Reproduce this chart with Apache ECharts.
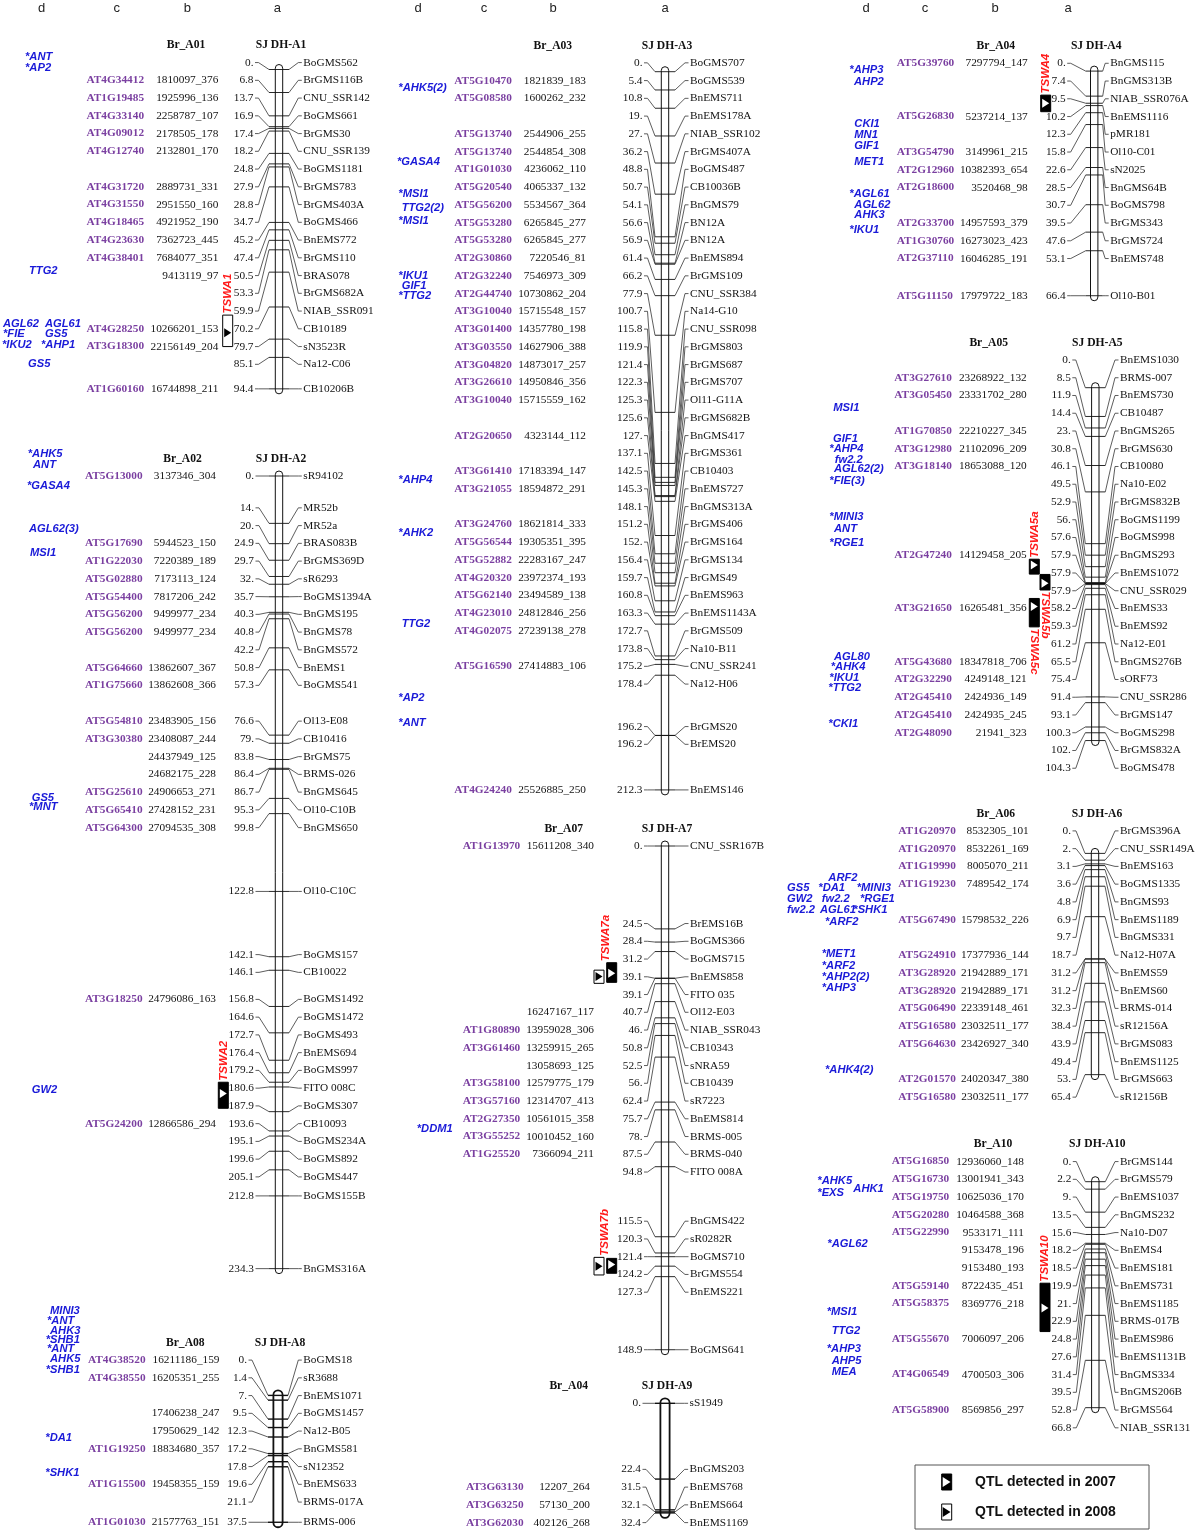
<!DOCTYPE html>
<html><head><meta charset="utf-8">
<script src="https://cdn.jsdelivr.net/npm/echarts@6/dist/echarts.min.js"></script>
<style>html,body{margin:0;padding:0;background:#fff}#chart{width:1200px;height:1530px}</style>
</head><body><div id="chart"></div>
<script>
// ================= DATA =================
const groupIds = ['A01','A02','A08','A03','A07','A09','A04','A05','A06','A10'];
const brNames  = ['Br_A01','Br_A02','Br_A08','Br_A03','Br_A07','Br_A04','Br_A04','Br_A05','Br_A06','Br_A10'];
const sjNames  = ['SJ DH-A1','SJ DH-A2','SJ DH-A8','SJ DH-A3','SJ DH-A7','SJ DH-A9','SJ DH-A4','SJ DH-A5','SJ DH-A6','SJ DH-A10'];

// ---- A01 ----
const A01_marker = ['BoGMS562','BrGMS116B','CNU_SSR142','BoGMS661','BrGMS30','CNU_SSR139','BoGMS1181','BrGMS783','BrGMS403A','BoGMS466','BnEMS772','BrGMS110','BRAS078','BrGMS682A','NIAB_SSR091','CB10189','sN3523R','Na12-C06','CB10206B'];
const A01_cM = [0,6.8,13.7,16.9,17.4,18.2,24.8,27.9,28.8,34.7,45.2,47.4,50.5,53.3,59.9,70.2,79.7,85.1,94.4];
const A01_gene = ['','AT4G34412','AT1G19485','AT4G33140','AT4G09012','AT4G12740','','AT4G31720','AT4G31550','AT4G18465','AT4G23630','AT4G38401','','','','AT4G28250','AT3G18300','','AT1G60160'];
const A01_phys = ['','1810097_376','1925996_136','2258787_107','2178505_178','2132801_170','','2889731_331','2951550_160','4921952_190','7362723_445','7684077_351','9413119_97','','','10266201_153','22156149_204','','16744898_211'];
const A01_cand = ['*ANT','*AP2','TTG2','AGL62','AGL61','*FIE','GS5','*IKU2','*AHP1','GS5'];
const A01_candCM = [-3.6,-0.5,59.4,75.2,75.2,78.3,78.3,81.4,81.4,87.1];

// ---- A02 ----
const A02_marker = ['sR94102','MR52b','MR52a','BRAS083B','BrGMS369D','sR6293','BoGMS1394A','BnGMS195','BnGMS78','BnGMS572','BnEMS1','BoGMS541','Ol13-E08','CB10416','BrGMS75','BRMS-026','BnGMS645','Ol10-C10B','BnGMS650','Ol10-C10C','BoGMS157','CB10022','BoGMS1492','BoGMS1472','BoGMS493','BnEMS694','BoGMS997','FITO 008C','BoGMS307','CB10093','BoGMS234A','BoGMS892','BoGMS447','BoGMS155B','BnGMS316A'];
const A02_cM = [0,14,20,24.9,29.7,32,35.7,40.3,40.8,42.2,50.8,57.3,76.6,79,83.8,86.4,86.7,95.3,99.8,122.8,142.1,146.1,156.8,164.6,172.7,176.4,179.2,180.6,187.9,193.6,195.1,199.6,205.1,212.8,234.3];
const A02_gene = ['AT5G13000','','','AT5G17690','AT1G22030','AT5G02880','AT5G54400','AT5G56200','AT5G56200','','AT5G64660','AT1G75660','AT5G54810','AT3G30380','','','AT5G25610','AT5G65410','AT5G64300','','','','AT3G18250','','','','','','','AT5G24200','','','','',''];
const A02_phys = ['3137346_304','','','5944523_150','7220389_189','7173113_124','7817206_242','9499977_234','9499977_234','','13862607_367','13862608_366','23483905_156','23408087_244','24437949_125','24682175_228','24906653_271','27428152_231','27094535_308','','','','24796086_163','','','','','','','12866586_294','','','','',''];
const A02_cand = ['*AHK5','ANT','*GASA4','AGL62(3)','MSI1','GS5','*MNT','GW2'];
const A02_candCM = [-6.4,-3.3,3.0,15.5,22.7,95.1,97.7,181.5];

// ---- A08 ----
const A08_marker = ['BoGMS18','sR3688','BnEMS1071','BoGMS1457','Na12-B05','BnGMS581','sN12352','BnEMS633','BRMS-017A','BRMS-006'];
const A08_cM = [0,1.4,7,9.5,12.3,17.2,17.8,19.6,21.1,37.5];
const A08_gene = ['AT4G38520','AT4G38550','','','','AT1G19250','','AT1G15500','','AT1G01030'];
const A08_phys = ['16211186_159','16205351_255','','17406238_247','17950629_142','18834680_357','','19458355_159','','21577763_151'];
const A08_cand = ['MINI3','*ANT','AHK3','*SHB1','*ANT','AHK5','*SHB1','*DA1','*SHK1'];
const A08_candCM = [-25.0,-22.1,-19.1,-16.4,-13.6,-10.7,-7.5,12.7,23.0];

// ---- A03 ----
const A03_marker = ['BoGMS707','BoGMS539','BnEMS711','BnEMS178A','NIAB_SSR102','BrGMS407A','BoGMS487','CB10036B','BnGMS79','BN12A','BN12A','BnEMS894','BrGMS109','CNU_SSR384','Na14-G10','CNU_SSR098','BrGMS803','BrGMS687','BrGMS707','Ol11-G11A','BrGMS682B','BnGMS417','BrGMS361','CB10403','BnEMS727','BnGMS313A','BrGMS406','BrGMS164','BrGMS134','BrGMS49','BnEMS963','BnEMS1143A','BrGMS509','Na10-B11','CNU_SSR241','Na12-H06','BrGMS20','BrEMS20','BnEMS146'];
const A03_cM = [0,5.4,10.8,19,27,36.2,48.8,50.7,54.1,56.6,56.9,61.4,66.2,77.9,100.7,115.8,119.9,121.4,122.3,125.3,125.6,127,137.1,142.5,145.3,148.1,151.2,152,156.4,159.7,160.8,163.3,172.7,173.8,175.2,178.4,196.2,196.2,212.3];
const A03_gene = ['','AT5G10470','AT5G08580','','AT5G13740','AT5G13740','AT1G01030','AT5G20540','AT5G56200','AT5G53280','AT5G53280','AT2G30860','AT2G32240','AT2G44740','AT3G10040','AT3G01400','AT3G03550','AT3G04820','AT3G26610','AT3G10040','','AT2G20650','','AT3G61410','AT3G21055','','AT3G24760','AT5G56544','AT5G52882','AT4G20320','AT5G62140','AT4G23010','AT4G02075','','AT5G16590','','','','AT4G24240'];
const A03_phys = ['','1821839_183','1600262_232','','2544906_255','2544854_308','4236062_110','4065337_132','5534567_364','6265845_277','6265845_277','7220546_81','7546973_309','10730862_204','15715548_157','14357780_198','14627906_388','14873017_257','14950846_356','15715559_162','','4323144_112','','17183394_147','18594872_291','','18621814_333','19305351_395','22283167_247','23972374_193','23494589_138','24812846_256','27239138_278','','27414883_106','','','','25526885_250'];
const A03_cand = ['*AHK5(2)','*GASA4','*MSI1','TTG2(2)','*MSI1','*IKU1','GIF1','*TTG2','*AHP4','*AHK2','TTG2','*AP2','*ANT'];
const A03_candCM = [4.9,26.6,36.2,40.2,44.0,60.3,63.3,66.2,120.7,136.3,163.3,185.2,192.4];

// ---- A07 ----
const A07_marker = ['CNU_SSR167B','BrEMS16B','BoGMS366','BoGMS715','BnEMS858','FITO 035','Ol12-E03','NIAB_SSR043','CB10343','sNRA59','CB10439','sR7223','BnEMS814','BRMS-005','BRMS-040','FITO 008A','BnGMS422','sR0282R','BoGMS710','BrGMS554','BnEMS221','BoGMS641'];
const A07_cM = [0,24.5,28.4,31.2,39.1,39.1,40.7,46,50.8,52.5,56,62.4,75.7,78,87.5,94.8,115.5,120.3,121.4,124.2,127.3,148.9];
const A07_gene = ['AT1G13970','','','','','','','AT1G80890','AT3G61460','','AT3G58100','AT3G57160','AT2G27350','AT3G55252','AT1G25520','','','','','','',''];
const A07_phys = ['15611208_340','','','','','','16247167_117','13959028_306','13259915_265','13058693_125','12579775_179','12314707_413','10561015_358','10010452_160','7366094_211','','','','','','',''];
const A07_cand = ['*DDM1'];
const A07_candCM = [83.5];

// ---- A09 ----
const A09_marker = ['sS1949','BnGMS203','BnEMS768','BnEMS664','BnEMS1169'];
const A09_cM = [0,22.4,31.5,32.1,32.4];
const A09_gene = ['','','AT3G63130','AT3G63250','AT3G62030'];
const A09_phys = ['','','12207_264','57130_200','402126_268'];
const A09_cand = [];
const A09_candCM = [];

// ---- A04 ----
const A04_marker = ['BnGMS115','BnGMS313B','NIAB_SSR076A','BnEMS1116','pMR181','Ol10-C01','sN2025','BnGMS64B','BoGMS798','BrGMS343','BrGMS724','BnEMS748','Ol10-B01'];
const A04_cM = [0,7.4,9.5,10.2,12.3,15.8,22.6,28.5,30.7,39.5,47.6,53.1,66.4];
const A04_gene = ['AT5G39760','','','AT5G26830','','AT3G54790','AT2G12960','AT2G18600','','AT2G33700','AT1G30760','AT2G37110','AT5G11150'];
const A04_phys = ['7297794_147','','','5237214_137','','3149961_215','10382393_654','3520468_98','','14957593_379','16273023_423','16046285_191','17979722_183'];
const A04_cand = ['*AHP3','AHP2','CKI1','MN1','GIF1','MET1','*AGL61','AGL62','AHK3','*IKU1'];
const A04_candCM = [-0.3,3.3,15.6,18.9,22.1,26.8,36.3,39.6,42.5,47.0];

// ---- A05 ----
const A05_marker = ['BnEMS1030','BRMS-007','BnEMS730','CB10487','BnGMS265','BrGMS630','CB10080','Na10-E02','BrGMS832B','BoGMS1199','BoGMS998','BnGMS293','BnEMS1072','CNU_SSR029','BnEMS33','BnEMS92','Na12-E01','BnGMS276B','sORF73','CNU_SSR286','BrGMS147','BoGMS298','BrGMS832A','BoGMS478'];
const A05_cM = [0,8.5,11.9,14.4,23,30.8,46.1,49.5,52.9,56,57.6,57.9,57.9,57.9,58.2,59.3,61.2,65.5,75.4,91.4,93.1,100.3,102,104.3];
const A05_gene = ['','AT3G27610','AT3G05450','','AT1G70850','AT3G12980','AT3G18140','','','','','AT2G47240','','','AT3G21650','','','AT5G43680','AT2G32290','AT2G45410','AT2G45410','AT2G48090','',''];
const A05_phys = ['','23268922_132','23331702_280','','22210227_345','21102096_209','18653088_120','','','','','14129458_205','','','16265481_356','','','18347818_706','4249148_121','2424936_149','2424935_245','21941_323','',''];
const A05_cand = ['MSI1','GIF1','*AHP4','fw2.2','AGL62(2)','*FIE(3)','*MINI3','ANT','*RGE1','AGL80','*AHK4','*IKU1','*TTG2','*CKI1'];
const A05_candCM = [6.1,15.1,18.2,21.2,24.1,27.6,38.1,41.8,46.0,79.5,82.5,85.7,88.7,99.5];

// ---- A06 ----
const A06_marker = ['BrGMS396A','CNU_SSR149A','BnEMS163','BoGMS1335','BnGMS93','BnEMS1189','BnGMS331','Na12-H07A','BnEMS59','BnEMS60','BRMS-014','sR12156A','BrGMS083','BnEMS1125','BrGMS663','sR12156B'];
const A06_cM = [0,2,3.1,3.6,4.8,6.9,9.7,18.7,31.2,31.2,32.3,38.4,43.9,49.4,53,65.4];
const A06_gene = ['AT1G20970','AT1G20970','AT1G19990','AT1G19230','','AT5G67490','','AT5G24910','AT3G28920','AT3G28920','AT5G06490','AT5G16580','AT5G64630','','AT2G01570','AT5G16580'];
const A06_phys = ['8532305_101','8532261_169','8005070_211','7489542_174','','15798532_226','','17377936_144','21942889_171','21942889_171','22339148_461','23032511_177','23426927_340','','24020347_380','23032511_177'];
const A06_cand = ['ARF2','GS5','*DA1','*MINI3','GW2','fw2.2','*RGE1','fw2.2','AGL61','*SHK1','*ARF2','*MET1','*ARF2','*AHP2(2)','*AHP3','*AHK4(2)'];
const A06_candCM = [7.1,10.3,10.3,10.3,13.6,13.6,13.6,16.7,16.7,16.7,20.2,29.8,33.2,36.6,39.9,64.0];

// ---- A10 ----
const A10_marker = ['BrGMS144','BrGMS579','BnEMS1037','BnGMS232','Na10-D07','BnEMS4','BnEMS181','BnEMS731','BnEMS1185','BRMS-017B','BnEMS986','BnEMS1131B','BnGMS334','BnGMS206B','BrGMS564','NIAB_SSR131'];
const A10_cM = [0,2.2,9,13.5,15.6,18.2,18.5,19.9,21,22.9,24.8,27.6,31.4,39.5,52.8,66.8];
const A10_gene = ['AT5G16850','AT5G16730','AT5G19750','AT5G20280','AT5G22990','','','AT5G59140','AT5G58375','','AT5G55670','','AT4G06549','','AT5G58900',''];
const A10_phys = ['12936060_148','13001941_343','10625036_170','10464588_368','9533171_111','9153478_196','9153480_193','8722435_451','8369776_218','','7006097_206','','4700503_306','','8569856_297',''];
const A10_cand = ['*AHK5','*EXS','AHK1','*AGL62','*MSI1','TTG2','*AHP3','AHP5','MEA'];
const A10_candCM = [-0.2,3.3,2.2,18.4,38.6,44.1,49.5,53.0,56.2];

// ---- QTL ----
const qtlName  = ['TSWA1','TSWA2','TSWA4','TSWA5a','TSWA5b','TSWA5c','TSWA7a','','TSWA7b','','TSWA10'];
const qtlGroup = ['A01','A02','A04','A05','A05','A05','A07','A07','A07','A07','A10'];
const qtlYear  = [2008,2007,2007,2007,2007,2007,2007,2008,2008,2007,2007];
const qtlFrom  = [72.6,179.2,7.1,50.7,55.2,62.3,34.5,36.7,121.6,121.9,30.0];
const qtlTo    = [81.9,186.9,12.0,55.1,59.8,70.7,40.3,40.6,126.8,126.3,44.3];
const qtlPeak  = [77.8,182.5,9.5,52.4,57.8,64.7,37.6,38.6,124.2,123.7,37.3];

const legendLabels = ['QTL detected in 2007','QTL detected in 2008'];
const legendYears = [2007,2008];
const columnLetters = ['d','c','b','a'];

const MARKER = {A01:A01_marker,A02:A02_marker,A08:A08_marker,A03:A03_marker,A07:A07_marker,A09:A09_marker,A04:A04_marker,A05:A05_marker,A06:A06_marker,A10:A10_marker};
const CM = {A01:A01_cM,A02:A02_cM,A08:A08_cM,A03:A03_cM,A07:A07_cM,A09:A09_cM,A04:A04_cM,A05:A05_cM,A06:A06_cM,A10:A10_cM};
const GENE = {A01:A01_gene,A02:A02_gene,A08:A08_gene,A03:A03_gene,A07:A07_gene,A09:A09_gene,A04:A04_gene,A05:A05_gene,A06:A06_gene,A10:A10_gene};
const PHYS = {A01:A01_phys,A02:A02_phys,A08:A08_phys,A03:A03_phys,A07:A07_phys,A09:A09_phys,A04:A04_phys,A05:A05_phys,A06:A06_phys,A10:A10_phys};
const CAND = {A01:A01_cand,A02:A02_cand,A08:A08_cand,A03:A03_cand,A07:A07_cand,A09:A09_cand,A04:A04_cand,A05:A05_cand,A06:A06_cand,A10:A10_cand};
const CANDCM = {A01:A01_candCM,A02:A02_candCM,A08:A08_candCM,A03:A03_candCM,A07:A07_candCM,A09:A09_candCM,A04:A04_candCM,A05:A05_candCM,A06:A06_candCM,A10:A10_candCM};

// ================= LAYOUT / STYLE =================
const PX_PER_CM = 3.383;
const ROW = 17.75;      // label row pitch
const MIN_GAP = 18.3;   // clusters closer than this are merged
const LAYOUT = {
  A01:{cx:279,   top:69.5,   lg:25.5, rg:24.3, geneX:86.5,  physX:218.3, brX:186,   candX:[25,25,29,3,45,3,45,2,41,28]},
  A02:{cx:279,   top:476,    lg:25,   rg:24.3, geneX:85,    physX:216,   brX:182.5, candX:[27.7,33,27,29,30,31.7,29,31.7]},
  A08:{cx:278,   top:1395.4, lg:31,   rg:25.3, geneX:88,    physX:219.5, brX:185.3, thick:true, candX:[50,47,50,45.7,47,50,45.7,45.3,45.3]},
  A03:{cx:665,   top:71.7,   lg:22.5, rg:25,   geneX:454.3, physX:586,   brX:552.8, candX:[398.3,397,398.3,401.7,398.3,398.3,401.7,398.3,398.3,398.3,401.7,398.3,398.3]},
  A07:{cx:665,   top:846,    lg:22.5, rg:25,   geneX:462.7, physX:594,   brX:563.7, candX:[416.7]},
  A09:{cx:665,   top:1403.3, lg:24,   rg:24.6, geneX:466,   physX:590,   brX:568.7, thick:true, candX:[]},
  A04:{cx:1094.2,top:71.1,   lg:28.5, rg:16,   geneX:896.7, physX:1027.7,brX:995.8, tk:8.5, candX:[849.3,854,854.3,854.3,854.3,854.3,849.3,854.3,854.3,849.3]},
  A05:{cx:1095.3,top:387.7,  lg:24.5, rg:24.7, geneX:894.3, physX:1026.7,brX:988.7, candX:[833.3,833,829.3,834.7,834,829.3,829.3,834,829.3,834,830.7,829.3,828.3,828.3]},
  A06:{cx:1095,  top:853.4,  lg:24,   rg:25,   geneX:898.3, physX:1028.7,brX:995.8, candX:[828.3,787,818.3,856.7,787,821.7,860,787,820,853.3,825,821.7,821.7,821.7,821.7,825]},
  A10:{cx:1095.3,top:1181.7, lg:24,   rg:24.7, geneX:891.7, physX:1024,  brX:993,   candX:[817.3,817.3,853.3,827.3,826.7,831.7,826.7,831.7,831.7]}
};
const QTL_LAYOUT = {
  boxX:   [222.7,218.3,1040.7,1029.3,1040,1029.3,606.7,594,594,606.7,1040],
  labelX: [227.7,223.6,1045.4,1034.3,1045.3,1034.3,605.3,0,604.7,0,1045],
  dir:    ['up','up','up','up','down','down','up','','up','','up']
};
const COL_LETTER_X = [[41.7,116.7,187.3,277.3],[418,484,553,665],[866,925,995,1068]];

const BLUE='#1a1ad8', PURPLE='#7a3fa0', RED='#ff1a1a', INK='#111', LINE='#333';
const SERIF="'Liberation Serif','Times New Roman',serif";
const SANS="'Liberation Sans',Arial,sans-serif";
const F_MARK='11.3px '+SERIF, F_GENE='bold 11.3px '+SERIF, F_HEAD='bold 11.6px '+SERIF;
const F_BLUE='italic bold 11.2px '+SANS, F_QTL='italic bold 11.6px '+SANS;

function txt(t,x,y,font,fill,align){
  return {type:'text', style:{text:t,x:x,y:y,font:font,fill:fill,align:align,verticalAlign:'middle',textAlign:align,textVerticalAlign:'middle'}};
}
function fmtCM(v){ return Number.isInteger(v) ? v + '.' : String(v); }

// cluster label placement: each overlapping group is centred on the midpoint of its extreme ideal positions
function spreadLabels(ideal, h, minGap){
  let cl = ideal.map((v,i)=>[i,i]);
  const top = c => (ideal[c[0]]+ideal[c[1]])/2 - (c[1]-c[0])*h/2;
  let merged = true;
  while (merged){
    merged = false;
    for (let i=0;i<cl.length-1;i++){
      const a=cl[i], b=cl[i+1];
      if (top(b) - (top(a)+(a[1]-a[0])*h) < minGap){ cl.splice(i,2,[a[0],b[1]]); merged=true; break; }
    }
  }
  const out=[];
  cl.forEach(c=>{ const t=top(c); for(let j=c[0];j<=c[1];j++) out[j]=t+(j-c[0])*h; });
  return out;
}

function markerSeries(gi){
  const id=groupIds[gi], L=LAYOUT[id];
  const cms=CM[id], names=MARKER[id], genes=GENE[id], phys=PHYS[id];
  const tk=L.tk||10, hw=L.thick?4.6:3.7, lw=L.thick?1.8:1;
  let labelYs=null;
  return {
    type:'custom', xAxisIndex:gi, yAxisIndex:gi, silent:true, clip:false, animation:false,
    data: cms.map(v=>[L.cx, v]), encode:{x:0,y:1},
    renderItem:function(params, api){
      const k=params.dataIndex, cx=L.cx;
      if (k===0 || !labelYs){ labelYs = spreadLabels(cms.map(v=>api.coord([cx,v])[1]), ROW, MIN_GAP); }
      const ty=api.coord([cx, api.value(1)])[1], ly=labelYs[k];
      const ch=[];
      if (k===0){
        const y0=api.coord([cx,cms[0]])[1], y1=api.coord([cx,cms[cms.length-1]])[1];
        ch.push({type:'rect', shape:{x:cx-hw,y:y0-5,width:2*hw,height:y1-y0+10,r:hw}, style:{fill:'#fff',stroke:'#111',lineWidth:lw}});
        ch.push(txt(brNames[gi], L.brX, labelYs[0]-ROW+0.5, F_HEAD, INK, 'center'));
        ch.push(txt(sjNames[gi], cx+2, labelYs[0]-ROW+0.5, F_HEAD, INK, 'center'));
      }
      const ls={stroke:LINE, lineWidth:0.8, fill:'none'};
      ch.push({type:'line', shape:{x1:cx-tk,y1:ty,x2:cx+tk,y2:ty}, style:{stroke:'#111',lineWidth:L.thick?1.4:0.9}});
      ch.push({type:'polyline', shape:{points:[[cx-L.lg+1.5,ly],[cx-L.lg+5,ly],[cx-tk,ty]]}, style:ls});
      ch.push({type:'polyline', shape:{points:[[cx+tk,ty],[cx+L.rg-5,ly],[cx+L.rg-1.5,ly]]}, style:ls});
      ch.push(txt(fmtCM(cms[k]), cx-L.lg, ly, F_MARK, INK, 'right'));
      ch.push(txt(names[k], cx+L.rg, ly, F_MARK, INK, 'left'));
      if (genes[k]) ch.push(txt(genes[k], L.geneX, ly, F_GENE, PURPLE, 'left'));
      if (phys[k]) ch.push(txt(phys[k], L.physX, ly, F_MARK, INK, 'right'));
      return {type:'group', children:ch};
    }
  };
}

function candSeries(gi){
  const id=groupIds[gi], L=LAYOUT[id], names=CAND[id];
  return {
    type:'custom', xAxisIndex:gi, yAxisIndex:gi, silent:true, clip:false, animation:false,
    data: CANDCM[id].map((v,k)=>[L.candX[k], v]), encode:{x:0,y:1},
    renderItem:function(params, api){
      const p=api.coord([api.value(0), api.value(1)]);
      return txt(names[params.dataIndex], p[0], p[1], F_BLUE, BLUE, 'left');
    }
  };
}

function qtlSeries(gi){
  const id=groupIds[gi];
  const idx=qtlGroup.map((g,i)=>g===id?i:-1).filter(i=>i>=0);
  if (!idx.length) return null;
  return {
    type:'custom', xAxisIndex:gi, yAxisIndex:gi, silent:true, clip:false, animation:false, z:5,
    data: idx.map(i=>[QTL_LAYOUT.boxX[i], qtlFrom[i], qtlTo[i], qtlPeak[i], i]), encode:{x:0,y:[1,2]},
    renderItem:function(params, api){
      const i=api.value(4), x=api.value(0);
      const yA=api.coord([x, api.value(1)])[1], yB=api.coord([x, api.value(2)])[1], yP=api.coord([x, api.value(3)])[1];
      const dark = qtlYear[i]===2007;
      const ch=[
        {type:'rect', shape:{x:x,y:yA,width:10,height:yB-yA}, style:{fill:dark?'#000':'#fff',stroke:'#000',lineWidth:1}},
        {type:'polygon', shape:{points:[[x+1.5,yP-4.5],[x+8.5,yP],[x+1.5,yP+4.5]]}, style:{fill:dark?'#fff':'#000'}}
      ];
      if (qtlName[i]){
        const up = QTL_LAYOUT.dir[i]==='up';
        ch.push({type:'text', x:QTL_LAYOUT.labelX[i], y: up? yA-1.5 : yB+1.5, rotation: up? Math.PI/2 : -Math.PI/2,
          style:{text:qtlName[i], x:0, y:0, font:F_QTL, fill:RED, align:'left', verticalAlign:'middle', textAlign:'left', textVerticalAlign:'middle'}});
      }
      return {type:'group', children:ch};
    }
  };
}

const series=[];
groupIds.forEach((id,gi)=>{ series.push(markerSeries(gi)); if (CAND[id].length) series.push(candSeries(gi)); const q=qtlSeries(gi); if(q) series.push(q); });

// graphic: column letters + legend
const graphic=[];
COL_LETTER_X.forEach(row=>row.forEach((x,j)=>graphic.push({type:'text', x:x, y:8, style:{text:columnLetters[j], font:'13px '+SANS, fill:'#222', textAlign:'center', textVerticalAlign:'middle', align:'center', verticalAlign:'middle'}})));
graphic.push({type:'rect', shape:{x:915,y:1465,width:234,height:64}, style:{fill:'#fff',stroke:'#555',lineWidth:1}});
legendYears.forEach((yr,j)=>{
  const y = 1474 + j*30, dark = yr===2007;
  graphic.push({type:'rect', shape:{x:941.7,y:y,width:10,height:16}, style:{fill:dark?'#000':'#fff',stroke:'#000',lineWidth:1}});
  graphic.push({type:'polygon', shape:{points:[[942.7,y+3],[950.5,y+8],[942.7,y+13]]}, style:{fill:dark?'#fff':'#000'}});
  graphic.push({type:'text', x:975, y:y+8.5, style:{text:legendLabels[j], font:'bold 14px '+SANS, fill:'#111', textAlign:'left', textVerticalAlign:'middle', align:'left', verticalAlign:'middle'}});
});

const option = {
  animation:false,
  backgroundColor:'#fff',
  grid: groupIds.map(id=>({left:0, width:1200, top:LAYOUT[id].top, height:CM[id][CM[id].length-1]*PX_PER_CM, containLabel:false})),
  xAxis: groupIds.map((id,i)=>({type:'value', gridIndex:i, min:0, max:1200, show:false})),
  yAxis: groupIds.map((id,i)=>({type:'value', gridIndex:i, min:0, max:CM[id][CM[id].length-1], inverse:true, show:false})),
  graphic: {elements: graphic},
  series: series
};
const chart = echarts.init(document.getElementById('chart'), null, {renderer:'canvas'});
chart.setOption(option);
</script></body></html>
